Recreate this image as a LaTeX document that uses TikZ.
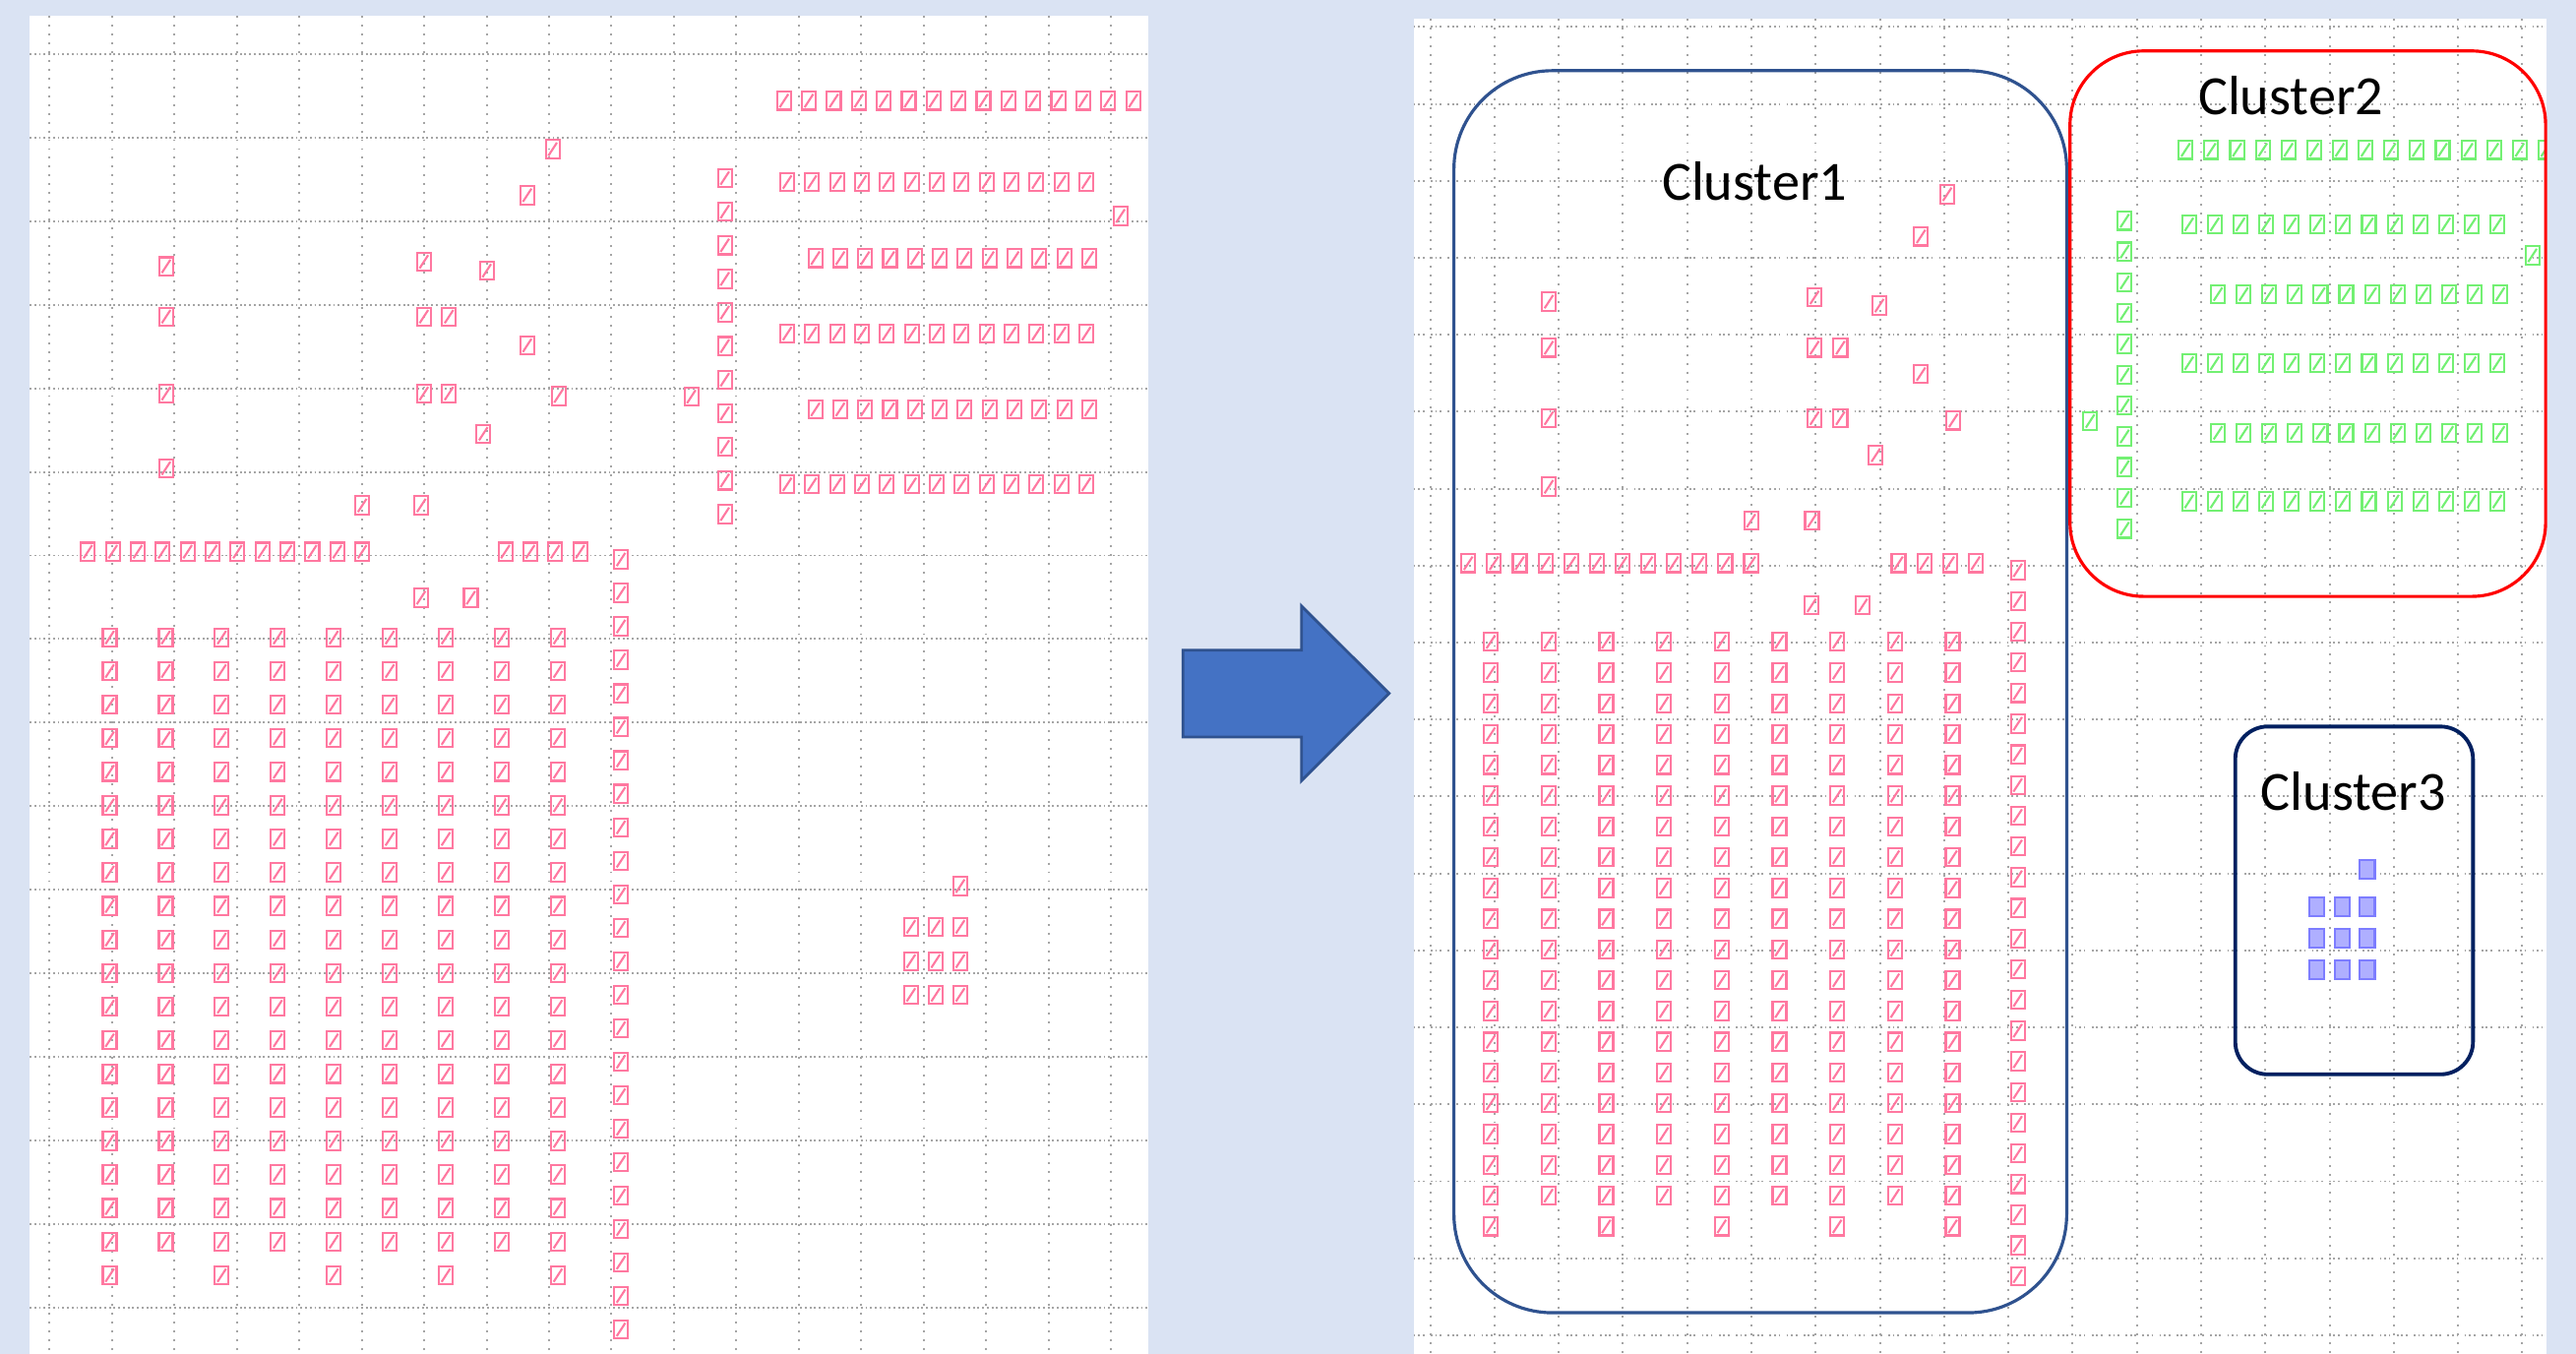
\documentclass[tikz,border=0pt]{standalone}
\usepackage{fontspec}
\setmainfont{Carlito}
\usetikzlibrary{calc}
\definecolor{sfondo}{RGB}{218,227,243}
\definecolor{grigliac}{RGB}{165,165,165}
\definecolor{rosac}{RGB}{255,120,160}
\definecolor{verdec}{RGB}{115,240,115}
\definecolor{bluc}{RGB}{125,125,255}
\definecolor{blufill}{RGB}{175,175,255}
\definecolor{clusteruno}{RGB}{47,82,143}
\definecolor{clustertre}{RGB}{0,32,96}
\definecolor{frecciablu}{RGB}{68,114,196}

\tikzset{
  cella/.pic={
    \draw[pic actions] (-4.2,-5.5) rectangle (4.2,5.5);
    \draw[pic actions] (-2.6,4) -- (2.6,-4);
  },
  cellapiena/.pic={
    \draw[pic actions] (-4.5,-5.7) rectangle (4.5,5.7);
  }
}

% Punti (coordinate del pannello sinistro)
\newcommand{\gruppouno}[2]{%
  \foreach \px/\py in {336.4/90.8, 320.9/118.8, 101.1/162.1, 258/159.3, 296.3/164.7,
      101.1/192.7, 258/192.7, 273.3/192.7, 320.9/210.2, 101.1/239.5, 258/239.5,
      273.3/239.5, 340/241, 294.2/264, 101.1/285, 220.5/307.6, 256.5/307.6,
      256.3/363.8, 286.6/363.8}
    {\pic[#1] at (\px,\py) {#2};}
  \foreach \i in {0,...,11} {\pic[#1] at (53.5+15.18*\i,335.8) {#2};}
  \foreach \i in {0,...,3} {\pic[#1] at (307.6+15.17*\i,335.8) {#2};}
  \foreach \j in {0,...,23} {\pic[#1] at (378,340.5+20.38*\j) {#2};}
  \foreach \i in {0,...,8}
    \foreach \j in {0,...,18} {\pic[#1] at (66.8+34.1*\i,388+20.43*\j) {#2};}
  \foreach \i in {0,2,...,8} {\pic[#1] at (66.8+34.1*\i,776.2) {#2};}
}
\newcommand{\gruppodue}[2]{%
  \foreach \i in {0,...,14} {\pic[#1] at (477.2+15.18*\i,61.3) {#2};}
  \foreach \py in {110.8,203,294.8}
    \foreach \i in {0,...,12} {\pic[#1] at (479.2+15.17*\i,\py) {#2};}
  \foreach \py in {157.1,249.2}
    \foreach \i in {0,...,11} {\pic[#1] at (496.3+15.15*\i,\py) {#2};}
  \foreach \j in {0,...,10} {\pic[#1] at (441.2,108.4+20.45*\j) {#2};}
  \pic[#1] at (420.8,241.4) {#2};
  \pic[#1] at (682,131.4) {#2};
}
\newcommand{\gruppotre}[2]{%
  \pic[#1] at (584.5,539.3) {#2};
  \foreach \py in {564.1,585,605.5}
    \foreach \px in {554.5,569.5,584.5} {\pic[#1] at (\px,\py) {#2};}
}

\begin{document}
\begin{tikzpicture}[
  x=0.0166964cm, y=-0.0166964cm,
  grigliav/.style={grigliac, line width=0.55pt, dash pattern=on 0.55pt off 2pt},
  grigliao/.style={grigliac, line width=0.55pt, dash pattern=on 0.55pt off 0.8pt},
  grigliaod/.style={grigliac, line width=0.55pt,
    dash pattern=on 0.5pt off 0.8pt on 0.5pt off 0.8pt on 0.5pt off 1.8pt},
  rosa/.style={draw=rosac, line width=0.6pt},
  verde/.style={draw=verdec, line width=0.6pt},
  blu/.style={draw=bluc, fill=blufill, line width=0.6pt},
  cluster/.style={line width=0.9pt},
  etichetta/.style={font=\fontsize{16}{19}\selectfont, anchor=base, inner sep=0pt},
  freccia/.style={fill=frecciablu, draw=clusteruno, line width=0.8pt}
]

  % Sfondo
  \useasboundingbox (0,0) rectangle (1568,824);
  \fill[sfondo] (0,0) rectangle (1568,824);

  % Pannelli
  \coordinate (sxA) at (18,9.6);
  \coordinate (sxB) at (699,824);
  \coordinate (dxA) at (860.5,11.4);
  \coordinate (dxB) at (1550,824);
  \fill[white] (sxA) rectangle (sxB);
  \fill[white] (dxA) rectangle (dxB);

  % Pannello sinistro
  \begin{scope}
    \clip (sxA) rectangle (sxB);
    \foreach \k in {0,...,17}
      \draw[grigliav] (30.2+38*\k,9.6) -- (30.2+38*\k,824);
    \foreach \k in {0,...,15}
      \draw[grigliao] (18,33+50.85*\k) -- (699,33+50.85*\k);
  \end{scope}
  \gruppouno{rosa}{cella}
  \gruppodue{rosa}{cella}
  \gruppotre{rosa}{cella}

  % Pannello destro
  \begin{scope}
    \clip (dxA) rectangle (dxB);
    \foreach \k in {0,...,17}
      \draw[grigliav] (870.6+39.1*\k,11.4) -- (870.6+39.1*\k,824);
    \foreach \k in {0,...,17}
      \draw[grigliaod] (860.5,16.4+46.84*\k) -- (1550,16.4+46.84*\k);
    \begin{scope}[shift={(838.6,35)}, xscale=1.0306, yscale=0.9166]
      \gruppouno{rosa}{cella}
      \gruppodue{verde}{cella}
      \gruppotre{blu}{cellapiena}
    \end{scope}
  \end{scope}

  % Cluster
  \draw[cluster, clusteruno, rounded corners=1cm] (885,43) rectangle (1258,799);
  \draw[cluster, red, rounded corners=0.75cm] (1260,31) rectangle (1549.5,363);
  \draw[cluster, clustertre, line width=1.1pt, rounded corners=0.33cm]
    (1360.6,442.2) rectangle (1505.3,653.9);
  \node[etichetta] (lab1) at (1068,121.8) {Cluster1};
  \node[etichetta] (lab2) at (1394.4,70) {Cluster2};
  \node[etichetta] (lab3) at (1432.5,493.1) {Cluster3};

  % Freccia
  \draw[freccia] (720.1,395.7) -- (792.2,395.7) -- (792.2,368.8) -- (845.5,422)
    -- (792.2,475.2) -- (792.2,448.6) -- (720.1,448.6) -- cycle;

\end{tikzpicture}
\end{document}
